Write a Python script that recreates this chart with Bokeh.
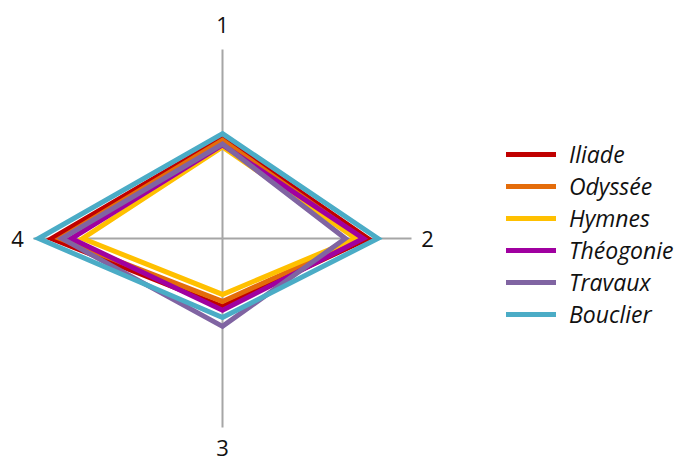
import numpy as np
from bokeh.plotting import figure
from bokeh.models import Legend, LegendItem
from bokeh.core.properties import value
from bokeh.embed import file_html
from bokeh.resources import INLINE

# ---- data ----
axis_labels = ["1", "2", "3", "4"]
series_names = ["Iliade", "Odyssée", "Hymnes", "Théogonie", "Travaux", "Bouclier"]
iliade = [0.53, 0.77, 0.36, 0.905]
odyssee = [0.52, 0.735, 0.333, 0.86]
hymnes = [0.485, 0.705, 0.296, 0.74]
theogonie = [0.495, 0.745, 0.38, 0.80]
travaux = [0.50, 0.65, 0.465, 0.85]
bouclier = [0.555, 0.822, 0.418, 0.973]
series_values = [iliade, odyssee, hymnes, theogonie, travaux, bouclier]
colors = ["#C00000", "#E46C0A", "#FFC000", "#A000A0", "#8064A2", "#4BACC6"]

# ---- geometry ----
W, H = 683, 464
R = 189.0          # pixels per unit radius
cx, cy = 222, 238  # centre in canvas pixels (from left, from top)

p = figure(width=W, height=H,
           x_range=(-cx / R, (W - cx) / R),
           y_range=(-(H - cy) / R, cy / R),
           x_axis_type=None, y_axis_type=None,
           output_backend="svg", toolbar_location=None, min_border=0)
p.grid.visible = False
p.outline_line_color = None
p.background_fill_color = "white"

angles = np.deg2rad([90, 0, -90, 180])
cosv, sinv = np.cos(angles), np.sin(angles)

# spokes
p.segment(x0=np.zeros(4), y0=np.zeros(4), x1=cosv, y1=sinv,
          line_color="#A6A6A6", line_width=2)

# axis labels
lab_r = np.array([1.13, 1.085, 1.11, 1.085])
p.text(x=lab_r * cosv, y=lab_r * sinv, text=axis_labels,
       text_align="center", text_baseline="middle",
       text_font=value("Open Sans"), text_font_size="22px", text_color="#111111")

# series polygons
items = []
for name, vals, c in zip(series_names, series_values, colors):
    v = np.array(vals)
    p.patch(x=v * cosv, y=v * sinv, fill_color=None, line_color=c,
            line_width=5, line_join="miter")
    r = p.line(x=[np.nan], y=[np.nan], line_color=c, line_width=5, line_cap="round")
    items.append(LegendItem(label=name, renderers=[r]))

legend = Legend(items=items, location=(506, 134),
                border_line_color=None, background_fill_alpha=0,
                padding=0, margin=0, spacing=0,
                glyph_width=50, glyph_height=24, label_height=24,
                label_standoff=13,
                label_text_font="Open Sans", label_text_font_style="italic",
                label_text_font_size="23px", label_text_color="#111111")
p.add_layout(legend)

open("out.html", "w").write(file_html(p, INLINE))
